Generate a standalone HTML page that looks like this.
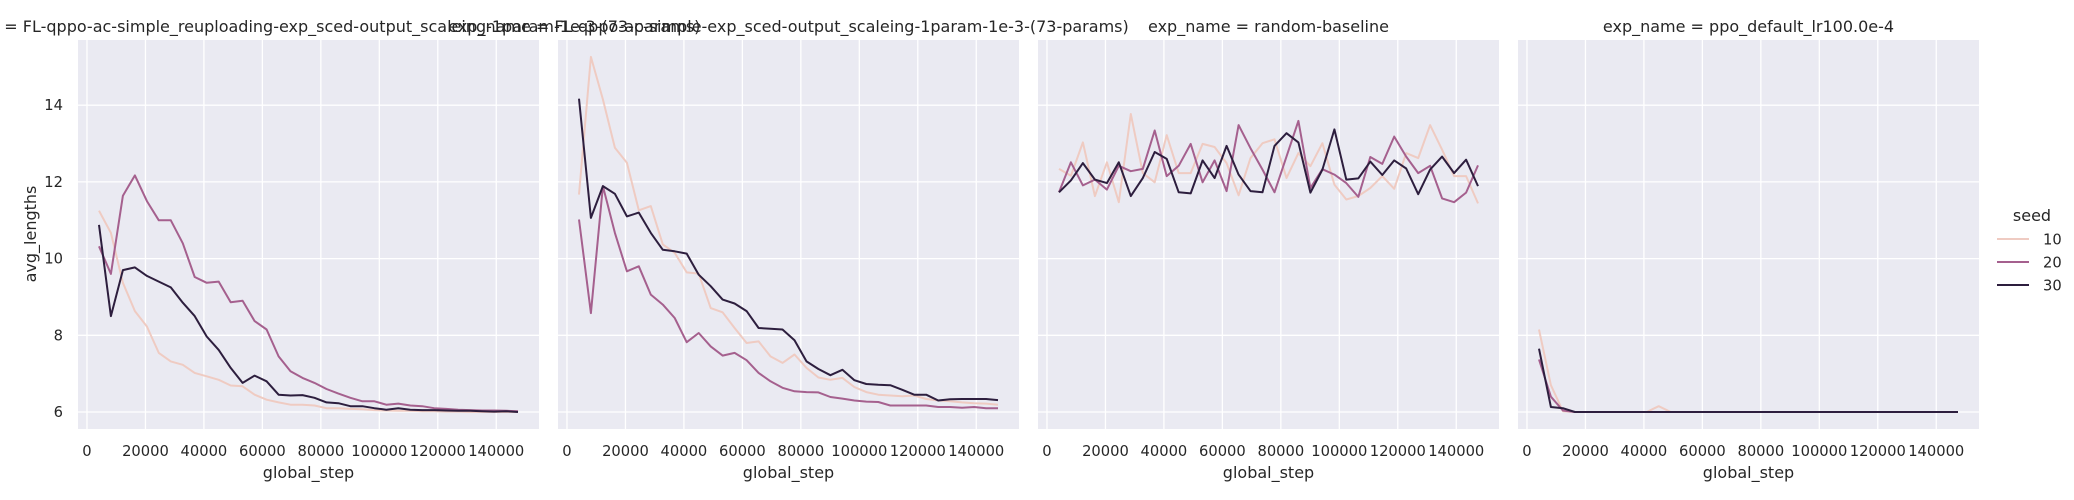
<!DOCTYPE html>
<html><head><meta charset="utf-8"><style>
html,body{margin:0;padding:0;background:#fff;}
svg{display:block;font-family:"DejaVu Sans","Liberation Sans",sans-serif;}
</style></head><body>
<svg id="chart" width="2074" height="500" viewBox="0 0 2074 500" xmlns="http://www.w3.org/2000/svg"></svg>
<script>
const steps = [];
for (let k = 1; k <= 36; k++) steps.push(4096 * k);
const seeds = [10, 20, 30];
const panelTitles = [
  "exp_name = FL-qppo-ac-simple_reuploading-exp_sced-output_scaleing-1param-1e-3-(73-params)",
  "exp_name = FL-qppo-ac-simple-exp_sced-output_scaleing-1param-1e-3-(73-params)",
  "exp_name = random-baseline",
  "exp_name = ppo_default_lr100.0e-4"
];
const xTicks = [0, 20000, 40000, 60000, 80000, 100000, 120000, 140000];
const yTicks = [6, 8, 10, 12, 14];

const p1s10 = [11.25,10.67,9.37,8.63,8.23,7.54,7.32,7.23,7.02,6.93,6.84,6.69,6.67,6.45,6.32,6.25,6.19,6.19,6.17,6.1,6.1,6.08,6.07,6.05,6.04,6.03,6.03,6.02,6.02,6.01,6.01,6.0,6.0,6.0,6.0,6.0];
const p1s20 = [10.32,9.6,11.64,12.17,11.5,11.0,11.0,10.4,9.52,9.37,9.4,8.86,8.9,8.37,8.15,7.45,7.06,6.89,6.76,6.6,6.48,6.37,6.28,6.28,6.19,6.22,6.17,6.15,6.1,6.08,6.06,6.05,6.04,6.04,6.03,6.02];
const p1s30 = [10.88,8.5,9.7,9.77,9.55,9.4,9.25,8.85,8.5,7.97,7.62,7.15,6.76,6.95,6.8,6.45,6.43,6.44,6.37,6.25,6.23,6.15,6.15,6.1,6.06,6.1,6.06,6.05,6.05,6.04,6.03,6.03,6.02,6.01,6.02,6.0];

const p2s10 = [11.67,15.26,14.15,12.89,12.5,11.26,11.37,10.37,10.15,9.64,9.61,8.71,8.6,8.19,7.8,7.84,7.45,7.28,7.5,7.15,6.9,6.84,6.89,6.65,6.52,6.45,6.43,6.41,6.43,6.34,6.3,6.28,6.25,6.23,6.22,6.19];
const p2s20 = [11.02,8.58,11.89,10.67,9.67,9.8,9.06,8.8,8.45,7.82,8.06,7.71,7.47,7.54,7.35,7.02,6.8,6.63,6.54,6.52,6.51,6.39,6.35,6.3,6.27,6.26,6.17,6.17,6.17,6.17,6.13,6.13,6.11,6.13,6.1,6.1];
const p2s30 = [14.17,11.06,11.89,11.69,11.1,11.2,10.67,10.23,10.19,10.13,9.58,9.28,8.93,8.83,8.63,8.19,8.17,8.15,7.87,7.32,7.12,6.96,7.1,6.83,6.73,6.71,6.7,6.58,6.45,6.45,6.3,6.33,6.34,6.34,6.34,6.31];

const p3s10 = [12.34,12.16,13.03,11.63,12.51,11.47,13.77,12.23,11.99,13.22,12.23,12.23,12.99,12.91,12.49,11.65,12.62,13.01,13.11,12.1,12.75,12.41,13.01,11.93,11.54,11.63,11.84,12.15,11.82,12.75,12.62,13.48,12.84,12.15,12.15,11.44];
const p3s20 = [11.73,12.51,11.91,12.06,11.8,12.42,12.28,12.34,13.34,12.15,12.42,12.99,11.99,12.56,11.76,13.48,12.88,12.32,11.73,12.66,13.59,11.84,12.33,12.19,11.97,11.61,12.65,12.47,13.18,12.66,12.23,12.42,11.57,11.47,11.72,12.43];
const p3s30 = [11.73,12.04,12.49,12.06,11.97,12.51,11.63,12.1,12.78,12.6,11.73,11.7,12.56,12.1,12.94,12.19,11.76,11.73,12.94,13.27,13.03,11.72,12.32,13.37,12.06,12.09,12.53,12.18,12.56,12.35,11.68,12.32,12.66,12.23,12.58,11.89];

const p4s10 = [8.15,6.7,6.02,6.0,6.0,6.0,6.0,6.0,6.0,6.0,6.15,6.0,6.0,6.0,6.0,6.0,6.0,6.0,6.0,6.0,6.0,6.0,6.0,6.0,6.0,6.0,6.0,6.0,6.0,6.0,6.0,6.0,6.0,6.0,6.0,6.0];
const p4s20 = [7.37,6.4,6.04,6.0,6.0,6.0,6.0,6.0,6.0,6.0,6.0,6.0,6.0,6.0,6.0,6.0,6.0,6.0,6.0,6.0,6.0,6.0,6.0,6.0,6.0,6.0,6.0,6.0,6.0,6.0,6.0,6.0,6.0,6.0,6.0,6.0];
const p4s30 = [7.65,6.13,6.1,6.0,6.0,6.0,6.0,6.0,6.0,6.0,6.0,6.0,6.0,6.0,6.0,6.0,6.0,6.0,6.0,6.0,6.0,6.0,6.0,6.0,6.0,6.0,6.0,6.0,6.0,6.0,6.0,6.0,6.0,6.0,6.0,6.0];

const panelSeries = [[p1s10,p1s20,p1s30],[p2s10,p2s20,p2s30],[p3s10,p3s20,p3s30],[p4s10,p4s20,p4s30]];
const colors = ["#efcbc2", "#a5608e", "#2d1e3e"];

const NS = "http://www.w3.org/2000/svg";
const svgEl = document.getElementById("chart");
function mk(tag, attrs, parent) {
  const e = document.createElementNS(NS, tag);
  for (const k in attrs) e.setAttribute(k, attrs[k]);
  (parent || svgEl).appendChild(e);
  return e;
}
const panelLeft = [78, 558, 1038, 1518];
const panelW = 461, plotTop = 40, plotBottom = 429;
const xMin = -3072, xMax = 154624;
function yScale(v) { return 412 - (v - 6) * 38.35; }

panelTitles.forEach((title, p) => {
  const L = panelLeft[p];
  const xScale = v => L + (v - xMin) / (xMax - xMin) * panelW;
  const g = mk("g", {});
  
  
  const bg = mk("rect", {x: L, y: plotTop, width: panelW, height: plotBottom - plotTop, fill: "#eaeaf2"}, g);
  
  
  xTicks.forEach(t => {
    const x = xScale(t);
    const gl = mk("line", {x1: x, x2: x, y1: plotTop, y2: plotBottom, stroke: "#fff", "stroke-width": 1.3}, g);
    
    
    const tl = mk("text", {x: x, y: 456, "text-anchor": "middle", "font-size": 14.7, fill: "#262626"}, g);
    tl.textContent = t;
    
    
  });
  yTicks.forEach(t => {
    const y = yScale(t);
    const gl = mk("line", {x1: L, x2: L + panelW, y1: y, y2: y, stroke: "#fff", "stroke-width": 1.3}, g);
    
    
    if (p === 0) {
      const tl = mk("text", {x: 63, y: y + 5, "text-anchor": "end", "font-size": 14.7, fill: "#262626"}, g);
      tl.textContent = t;
      
      
    }
  });
  panelSeries[p].forEach((vals, s) => {
    const pts = vals.map((v, i) => xScale(steps[i]).toFixed(1) + "," + yScale(v).toFixed(1)).join(" ");
    const pl = mk("polyline", {points: pts, fill: "none", stroke: colors[s], "stroke-width": 2, "stroke-linejoin": "round"}, g);
    
    
  });
  const tt = mk("text", {x: L + panelW / 2, y: 32, "text-anchor": "middle", "font-size": 16, fill: "#262626"}, g);
  tt.textContent = title;
  
  
  const xl = mk("text", {x: L + panelW / 2, y: 478, "text-anchor": "middle", "font-size": 16, fill: "#262626"}, g);
  xl.textContent = "global_step";
  
  
});

const yl = mk("text", {x: 0, y: 0, transform: "translate(36,234) rotate(-90)", "text-anchor": "middle", "font-size": 16, fill: "#262626"});
yl.textContent = "avg_lengths";



const lg = mk("g", {});


const lt = mk("text", {x: 2032, y: 221, "text-anchor": "middle", "font-size": 16, fill: "#262626"}, lg);
lt.textContent = "seed";


seeds.forEach((sd, i) => {
  const y = 239 + i * 23;
  const ln = mk("line", {x1: 1997, x2: 2029, y1: y, y2: y, stroke: colors[i], "stroke-width": 2}, lg);
  
  
  const tx = mk("text", {x: 2043, y: y + 5.5, "font-size": 14.7, fill: "#262626"}, lg);
  tx.textContent = sd;
  
  
});
</script>
</body></html>
